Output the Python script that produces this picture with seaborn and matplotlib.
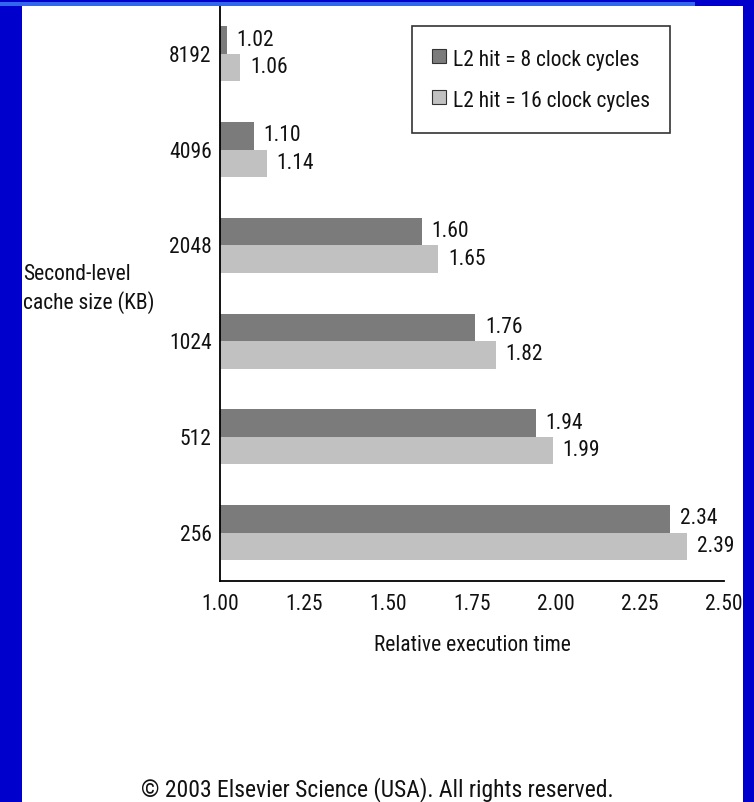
import numpy as np
import pandas as pd
import matplotlib
matplotlib.use("Agg")
import matplotlib.pyplot as plt
from matplotlib.lines import Line2D
from matplotlib.patches import Rectangle
import seaborn as sns

# Second-level cache sizes (KB), top to bottom, and relative execution times
cache_sizes = ["8192", "4096", "2048", "1024", "512", "256"]
hit_8_cycles = [1.02, 1.10, 1.60, 1.76, 1.94, 2.34]
hit_16_cycles = [1.06, 1.14, 1.65, 1.82, 1.99, 2.39]
series_names = ["L2 hit = 8 clock cycles", "L2 hit = 16 clock cycles"]
x_ticks = [1.00, 1.25, 1.50, 1.75, 2.00, 2.25, 2.50]

df = pd.DataFrame({
    "size": cache_sizes * 2,
    "time": hit_8_cycles + hit_16_cycles,
    "series": [series_names[0]] * len(cache_sizes) + [series_names[1]] * len(cache_sizes),
})

sns.set_theme(style="white")
plt.rcParams["font.family"] = ["Nimbus Sans Narrow", "Liberation Sans Narrow", "Arial Narrow",
                               "Roboto Condensed", "Archivo Narrow", "Liberation Sans",
                               "DejaVu Sans"]
plt.rcParams["text.color"] = "#111111"

SLIDE_BLUE = "#0000cc"
STRIPE_BLUE = "#3366ee"
DARK = "#7b7b7b"
LIGHT = "#c1c1c1"
FS = 15.5

W, H = 754, 802
fig = plt.figure(figsize=(W / 100, H / 100), dpi=100, facecolor="white")


def fx(px):
    return px / W


def fy(py):
    return 1 - py / H


# slide frame drawn over everything else
frame = [
    ((0, 0), fx(22), 1),                       # left band
    ((fx(743), 0), 1 - fx(743), 1),            # right band
    ((0, fy(6)), 1, 1 - fy(6)),                # top band
]
for (x0, y0), w, h in frame:
    fig.patches.append(Rectangle((x0, y0), w, h, transform=fig.transFigure,
                                 facecolor=SLIDE_BLUE, edgecolor="none", zorder=20))
fig.patches.append(Rectangle((0, fy(5.5)), fx(695), fy(2.5) - fy(5.5), transform=fig.transFigure,
                             facecolor=STRIPE_BLUE, edgecolor="none", zorder=21))

ax = fig.add_axes([fx(220), fy(580.5), fx(724) - fx(220), fy(6) - fy(580.5)])
ax.set_facecolor("none")

sns.barplot(data=df, y="size", x="time", hue="series", order=cache_sizes,
            hue_order=series_names, palette=[DARK, LIGHT], orient="h",
            width=0.575, gap=0, linewidth=0, edgecolor="none",
            errorbar=None, legend=False, ax=ax)

for cont in ax.containers:
    ax.bar_label(cont, fmt="%.2f", padding=7, fontsize=FS, color="#111111")

ax.set_xlim(1.0, 2.5)
ax.set_ylim(len(cache_sizes) - 0.5, -0.5)
ax.set_xticks(x_ticks)
ax.set_xticklabels([f"{t:.2f}" for t in x_ticks])
ax.set_yticks(range(len(cache_sizes)))
ax.set_yticklabels(cache_sizes)
ax.set_yticks(np.arange(len(cache_sizes) + 1) - 0.5, minor=True)
ax.tick_params(axis="y", which="major", length=0, pad=6, labelsize=FS, labelcolor="#111111")
ax.tick_params(axis="y", which="minor", direction="in", length=4, width=1.2, color="black")
ax.tick_params(axis="x", direction="in", length=5, width=1.2, color="black",
               pad=10, labelsize=FS, labelcolor="#111111")
sns.despine(ax=ax)
for side in ["left", "bottom"]:
    ax.spines[side].set_linewidth(1.3)
    ax.spines[side].set_color("black")

ax.set_ylabel("")
ax.set_xlabel("Relative execution time", fontsize=FS, labelpad=14, color="#111111")

fig.text(fx(23), fy(289), "Second-level\ncache size (KB)", ha="left", va="center",
         fontsize=FS, linespacing=1.35)

# square swatches for the two series
handles = [Line2D([], [], linestyle="none", marker="s", markersize=10,
                  markerfacecolor=c, markeredgecolor="#333333", markeredgewidth=0.8)
           for c in (DARK, LIGHT)]
leg = fig.legend(handles, series_names, loc="upper left",
                 bbox_to_anchor=(fx(412), fy(26)), bbox_transform=fig.transFigure,
                 frameon=True, fancybox=False, shadow=False, fontsize=FS,
                 handlelength=0.65, handleheight=1.5, handletextpad=0.3,
                 labelspacing=0.65, borderpad=0.94, borderaxespad=0)
leg.get_frame().set_edgecolor("black")
leg.get_frame().set_linewidth(1.2)

fig.text(0.5, fy(790), "\u00a9 2003 Elsevier Science (USA). All rights reserved.",
         ha="center", va="center", fontsize=17)

fig.savefig("out.png", dpi=100, facecolor=fig.get_facecolor())
